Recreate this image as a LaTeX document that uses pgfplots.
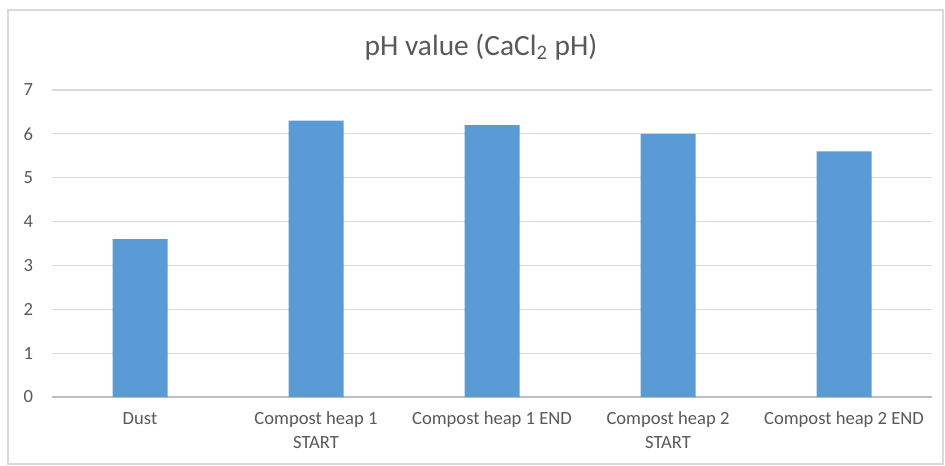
\documentclass[border=0pt]{standalone}
\usepackage{fontspec}
\setmainfont{Carlito}
\usepackage{pgfplots}
\pgfplotsset{compat=1.18}
\definecolor{barblue}{HTML}{5B9BD5}
\definecolor{txtgray}{HTML}{595959}
\definecolor{gridgray}{HTML}{D9D9D9}
\definecolor{axgray}{HTML}{BFBFBF}
\begin{document}
\begin{tikzpicture}
% canvas: 945x465 px at 0.5pt per px
\useasboundingbox[fill=white] (0,0) rectangle (472.5pt,232.5pt);
\draw[gridgray, line width=0.6pt] (4pt,0.5pt) rectangle (471.5pt,227.5pt);
\node[font=\fontsize{14.7}{17}\selectfont, text=txtgray] at (240.5pt,209pt) {pH value (CaCl\textsubscript{2} pH)};
\begin{axis}[
    at={(26pt,34pt)}, anchor=south west,
    scale only axis,
    width=440pt, height=153.5pt,
    ybar, bar width=27.5pt,
    xmin=-0.5, xmax=4.5,
    ymin=0, ymax=7,
    ytick={0,1,2,3,4,5,6,7},
    xtick=data,
    xticklabels={Dust, {Compost heap 1\\START}, Compost heap 1 END, {Compost heap 2\\START}, Compost heap 2 END},
    axis x line*=bottom,
    axis y line*=left,
    x axis line style={axgray, line width=0.7pt},
    y axis line style={draw=none},
    major tick length=0pt,
    ymajorgrids,
    grid style={gridgray, line width=0.6pt},
    tick label style={font=\fontsize{9.3}{12}\selectfont, text=txtgray},
    x tick label style={align=center, yshift=-4pt},
    y tick label style={xshift=-6pt},
    /pgf/number format/assume math mode=true,
    ticklabel style={/pgf/number format/fixed},
    enlarge x limits=false,
]
\addplot[fill=barblue, draw=none] coordinates {
    (0,3.6) (1,6.3) (2,6.2) (3,6.0) (4,5.6)
};
\end{axis}
\end{tikzpicture}
\end{document}
